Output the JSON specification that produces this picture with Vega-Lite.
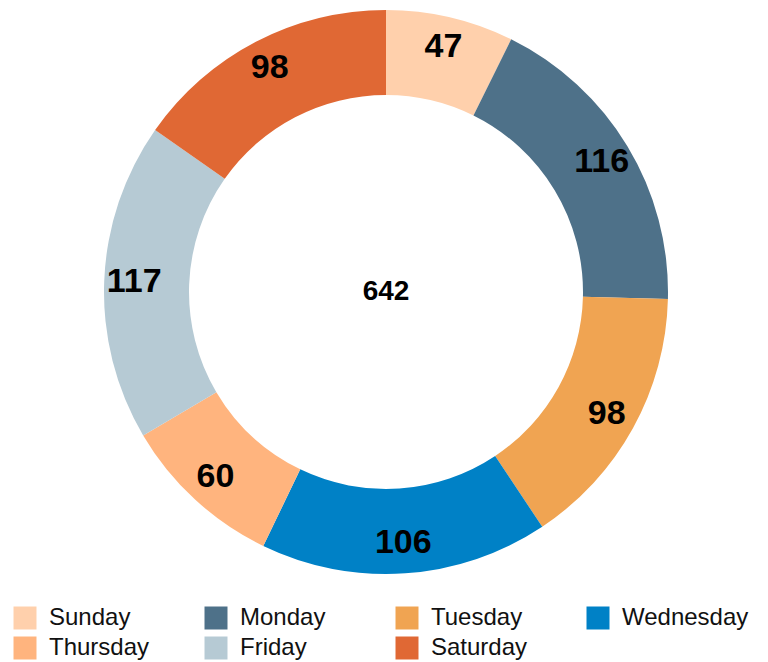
{
  "$schema": "https://vega.github.io/schema/vega-lite/v6.json",
  "autosize": "none",
  "width": 764,
  "height": 584,
  "padding": {"left": 4, "top": 0, "right": 0, "bottom": 78},
  "background": "white",
  "config": {"view": {"stroke": null}, "font": "Liberation Sans"},
  "data": {"values": [
    {"day": "Sunday", "count": 47},
    {"day": "Monday", "count": 116},
    {"day": "Tuesday", "count": 98},
    {"day": "Wednesday", "count": 106},
    {"day": "Thursday", "count": 60},
    {"day": "Friday", "count": 117},
    {"day": "Saturday", "count": 98}
  ]},
  "transform": [
    {"calculate": "indexof(['Sunday','Monday','Tuesday','Wednesday','Thursday','Friday','Saturday'], datum.day)", "as": "dayIndex"}
  ],
  "layer": [
    {
      "mark": {"type": "arc", "outerRadius": 282, "innerRadius": 197, "stroke": null},
      "encoding": {
        "theta": {"field": "count", "type": "quantitative", "stack": true},
        "order": {"field": "dayIndex", "type": "quantitative", "sort": "ascending"},
        "color": {
          "field": "day", "type": "nominal",
          "sort": ["Sunday", "Monday", "Tuesday", "Wednesday", "Thursday", "Friday", "Saturday"],
          "scale": {
            "domain": ["Sunday", "Monday", "Tuesday", "Wednesday", "Thursday", "Friday", "Saturday"],
            "range": ["#FFD0AC", "#4E7189", "#F0A452", "#0081C6", "#FFB47E", "#B6CAD4", "#E06834"]
          },
          "legend": {
            "title": null,
            "orient": "none",
            "legendX": 9,
            "legendY": 606,
            "direction": "horizontal",
            "columns": 4,
            "gridAlign": "all",
            "columnPadding": 28,
            "rowPadding": 6,
            "padding": 0,
            "symbolType": "square",
            "symbolSize": 529,
            "symbolStrokeWidth": 0,
            "symbolOpacity": 1,
            "labelFont": "Liberation Sans",
            "labelFontSize": 24,
            "labelColor": "#111111",
            "labelOffset": 12,
            "labelLimit": 300
          }
        }
      }
    },
    {
      "mark": {"type": "text", "radius": 252, "font": "Liberation Sans", "fontWeight": "bold", "fontSize": 34},
      "encoding": {
        "theta": {"field": "count", "type": "quantitative", "stack": true},
        "order": {"field": "dayIndex", "type": "quantitative", "sort": "ascending"},
        "detail": {"field": "day", "type": "nominal"},
        "fill": {"value": "black"},
        "text": {"field": "count", "type": "quantitative"}
      }
    },
    {
      "transform": [{"aggregate": [{"op": "sum", "field": "count", "as": "total"}]}],
      "mark": {"type": "text", "font": "Liberation Sans", "fontWeight": "bold", "fontSize": 28, "color": "black"},
      "encoding": {
        "text": {"field": "total", "type": "quantitative"}
      }
    }
  ]
}
